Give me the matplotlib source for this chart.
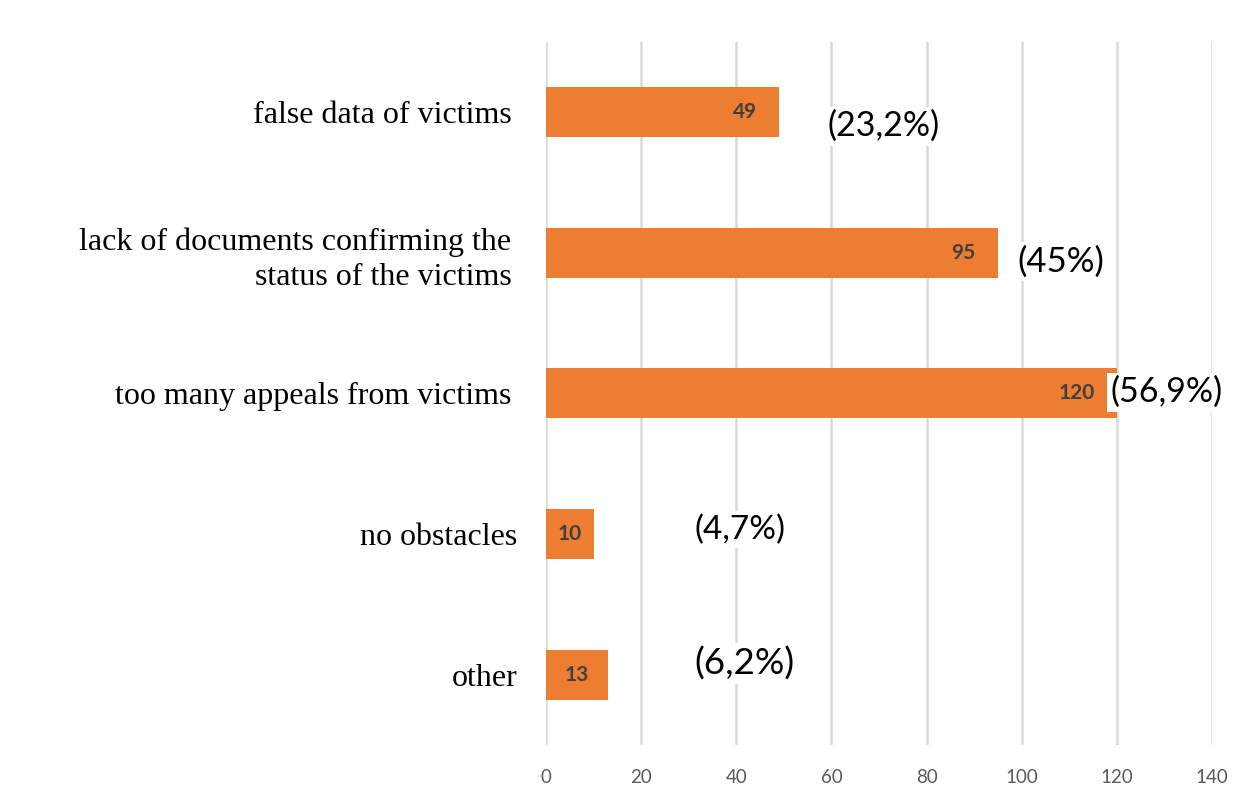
import matplotlib
matplotlib.use("Agg")
import matplotlib.pyplot as plt

# Reported obstacles and counts of respondents
categories = [
    "false data of victims",
    "lack of documents confirming the\nstatus of the victims",
    "too many appeals from victims",
    "no obstacles",
    "other",
]
counts = [49, 95, 120, 10, 13]
shares = ["(23,2%)", "(45%)", "(56,9%)", "(4,7%)", "(6,2%)"]
x_ticks = [0, 20, 40, 60, 80, 100, 120, 140]

# Placement of the share annotations (x in data units, y offset in rows)
share_x = [59.1, 99.0, 118.6, 31.3, 31.1]
share_dy = [0.1, 0.06, -0.01, -0.03, -0.08]
share_size = [24.5, 25, 24.5, 24, 26.5]

BAR = "#ED7D31"
GRID = "#D9D9D9"

fig = plt.figure(figsize=(12.42, 8.05), dpi=100)
ax = fig.add_axes([0.4396, 0.0745, 0.5362, 0.8735])

y = list(range(len(categories)))
ax.barh(y, counts, height=0.355, color=BAR, zorder=2)

ax.set_xlim(0, 140)
ax.set_ylim(len(categories) - 0.5, -0.5)
ax.set_xticks(x_ticks)
ax.set_xticklabels([str(t) for t in x_ticks], fontsize=13.5,
                   color="#595959", family="Lato")
ax.set_yticks(y)
ax.set_yticklabels(categories, fontsize=23, family="Liberation Serif",
                   color="black", linespacing=1.3)
ax.tick_params(axis="y", length=0, pad=25)
ax.tick_params(axis="x", length=0, pad=17)
# the two short labels sit a little closer to the axis
for lbl in ax.get_yticklabels()[3:]:
    lbl.set_x(lbl.get_position()[0] + 0.009)

ax.grid(axis="x", color=GRID, linewidth=1.8, zorder=0)
for s in ax.spines.values():
    s.set_visible(False)

# Counts printed inside the bars
px_per_unit = ax.get_window_extent().width / 140
for yi, v in zip(y, counts):
    if v * px_per_unit > 120:
        ax.annotate(str(v), xy=(v, yi), xytext=(-16, 0), textcoords="offset points",
                    ha="right", va="center", fontsize=15, fontweight="bold",
                    color="#404040", family="Lato", zorder=3)
    else:
        ax.text(v / 2, yi, str(v), ha="center", va="center", fontsize=15,
                fontweight="bold", color="#404040", family="Lato", zorder=3)

# Share of respondents next to each bar
for yi, lab, sx, dy, fs in zip(y, shares, share_x, share_dy, share_size):
    ax.text(sx, yi + dy, lab, ha="left", va="center", fontsize=fs,
            family="Lato", color="black", zorder=4,
            bbox=dict(boxstyle="square,pad=0.1", fc="white", ec="none"))

fig.savefig("out.png", dpi=100)
